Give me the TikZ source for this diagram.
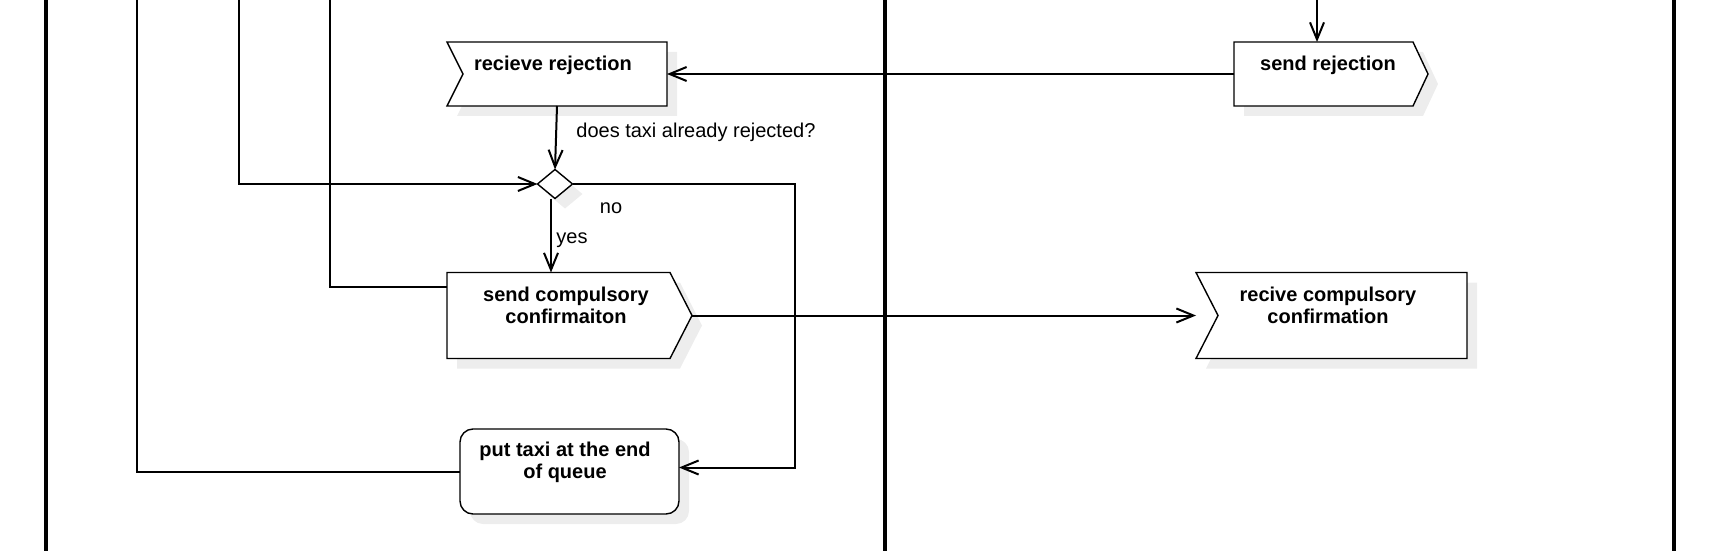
\documentclass[tikz,border=0pt]{standalone}
\usepackage{fontspec}
\setmainfont{Liberation Sans}
\usetikzlibrary{arrows.meta,shadows,calc}
\begin{document}
\begin{tikzpicture}[x=0.5pt,y=-0.5pt,
  lane/.style={line width=1.8pt},
  conn/.style={line width=1pt},
  arr/.style={conn,-{Straight Barb[length=8.5pt,width=7pt]}},
  box/.style={draw=black,fill=white,line width=0.7pt,
    drop shadow={shadow xshift=5pt,shadow yshift=-5pt,fill=black!7,opacity=1}},
  anc/.style={inner sep=0pt,outer sep=0pt},
  lbl/.style={font=\fontsize{10pt}{11pt}\selectfont\bfseries,align=center,inner sep=0pt},
  txt/.style={font=\fontsize{10pt}{11pt}\selectfont,inner sep=0pt}
]
\useasboundingbox (0,0) rectangle (1717,551);

% lanes
\draw[lane] (46,0) -- (46,551);
\draw[lane] (885,0) -- (885,551);
\draw[lane] (1674,0) -- (1674,551);

% anchor nodes
\node[anc,minimum width=110pt,minimum height=32pt] (rr) at (557,74) {};
\node[anc,minimum width=97pt,minimum height=32pt] (sr) at (1331,74) {};
\node[anc,minimum width=17.5pt,minimum height=14.5pt] (dia) at (555,184) {};
\node[anc,minimum width=122.5pt,minimum height=43pt] (sc) at (569.5,315.5) {};
\node[anc,minimum width=135.5pt,minimum height=43pt] (rc) at (1331.5,315.5) {};
\node[anc,minimum width=109.5pt,minimum height=42.5pt] (pt) at (569.5,471.5) {};

% shapes
\path[box] (rr.north west) -- (rr.north east) -- (rr.south east) -- (rr.south west) -- ([xshift=8pt]rr.west) -- cycle;
\path[box] (sr.north west) -- ([xshift=-7.5pt]sr.north east) -- (sr.east) -- ([xshift=-7.5pt]sr.south east) -- (sr.south west) -- cycle;
\path[box] (dia.north) -- (dia.east) -- (dia.south) -- (dia.west) -- cycle;
\path[box] (sc.north west) -- ([xshift=-11pt]sc.north east) -- (sc.east) -- ([xshift=-11pt]sc.south east) -- (sc.south west) -- cycle;
\path[box] (rc.north west) -- (rc.north east) -- (rc.south east) -- (rc.south west) -- ([xshift=11pt]rc.west) -- cycle;
\path[box,rounded corners=6.5pt] (pt.north west) rectangle (pt.south east);

% texts
\node[lbl] (rrt) at (553,65) {recieve rejection};
\node[lbl] (srt) at (1328,65) {send rejection};
\node[lbl] (sct) at (566,305.5) {send compulsory\\confirmaiton};
\node[lbl] (rct) at (1328,305.5) {recive compulsory\\confirmation};
\node[lbl] (ptt) at (565,462) {put taxi at the end\\of queue};

% free ends
\coordinate (inA) at (239,0);
\coordinate (inB) at (330,0);
\coordinate (bendB) at (330,287);
\coordinate (inC) at (137,0);
\coordinate (inD) at (1317,0);
\coordinate (noX) at (795,300);
\coordinate (yesS) at ($(dia.south)+(-2pt,0)$);
\coordinate (ptIn) at ($(pt.east)+(0,2pt)$);

% connectors
\draw[arr] (inA) |- (dia.west);
\draw[conn] (inB) -- (bendB) -- (bendB -| sc.west);
\draw[conn] (inC) |- (pt.west);
\draw[arr] (inD) -- (inD |- sr.north);
\draw[arr] (sr.west) -- (rr.east);
\draw[arr] (rr.south) -- (dia.north);
\draw[arr] (dia.east) -| (noX) |- (ptIn);
\draw[arr] (yesS) -- (yesS |- sc.north);
\draw[arr] (sc.east) -- (rc.west);

% labels
\node[txt,anchor=west] (q) at (576,132.7) {does taxi already rejected?};
\node[txt] (no) at (611,208.7) {no};
\node[txt] (yes) at (572,240.3) {yes};
\end{tikzpicture}
\end{document}
